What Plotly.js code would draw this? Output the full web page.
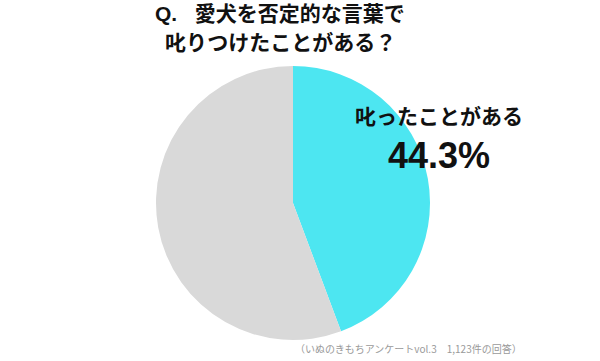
<!DOCTYPE html>
<html>
<head>
<meta charset="utf-8">
<script src="https://cdn.plot.ly/plotly-3.0.1.min.js"></script>
<style>html,body{margin:0;padding:0;background:#fff;}#chart{width:600px;height:361px;}</style>
</head>
<body>
<div id="chart"></div>
<script>
const categories = ["叱ったことがある", "叱ったことがない"];
const values = [44.3, 55.7];
const colors = ["#4de6f1", "#d9d9d9"];
const titleLines = ["Q.&nbsp;&nbsp;&nbsp;愛犬を否定的な言葉で", "叱りつけたことがある？"];
const footnote = "（いぬのきもちアンケートvol.3　1,123件の回答）";

const JP = "'Liberation Sans', 'Noto Sans CJK JP', sans-serif";

const trace = {
  type: "pie",
  labels: categories,
  values: values,
  sort: false,
  direction: "clockwise",
  rotation: 0,
  textinfo: "none",
  hoverinfo: "none",
  marker: {colors: colors, line: {width: 0}},
  domain: {x: [156/600, 430/600], y: [(361-340)/361, (361-66)/361]},
  showlegend: false
};

const annotations = [
  {text: "<b>" + titleLines[0] + "</b>", x: 153/600, xanchor: "left", y: 1 - 14/361, yanchor: "middle",
   font: {family: JP, size: 21, color: "#111111"}},
  {text: "<b>" + titleLines[1] + "</b>", x: 280/600, xanchor: "center", y: 1 - 42/361, yanchor: "middle",
   font: {family: JP, size: 21, color: "#111111"}},
  {text: "<b>" + categories[0] + "</b>", x: 439/600, xanchor: "center", y: 1 - 116/361, yanchor: "middle",
   font: {family: JP, size: 21, color: "#111111"}},
  {text: "<b>" + values[0].toFixed(1) + "%</b>", x: 439/600, xanchor: "center", y: 1 - 155/361, yanchor: "middle",
   font: {family: JP, size: 36, color: "#111111"}},
  {text: footnote, x: 293/600, xanchor: "left", y: 1 - 348/361, yanchor: "middle",
   font: {family: "'Noto Sans CJK JP', sans-serif", size: 10, color: "#9a9a9a"}}
].map(a => Object.assign({xref: "paper", yref: "paper", showarrow: false}, a));

const layout = {
  width: 600, height: 361,
  margin: {l: 0, r: 0, t: 0, b: 0},
  paper_bgcolor: "#ffffff",
  plot_bgcolor: "#ffffff",
  annotations: annotations
};

Plotly.newPlot("chart", [trace], layout, {displayModeBar: false, staticPlot: true});
</script>
</body>
</html>
